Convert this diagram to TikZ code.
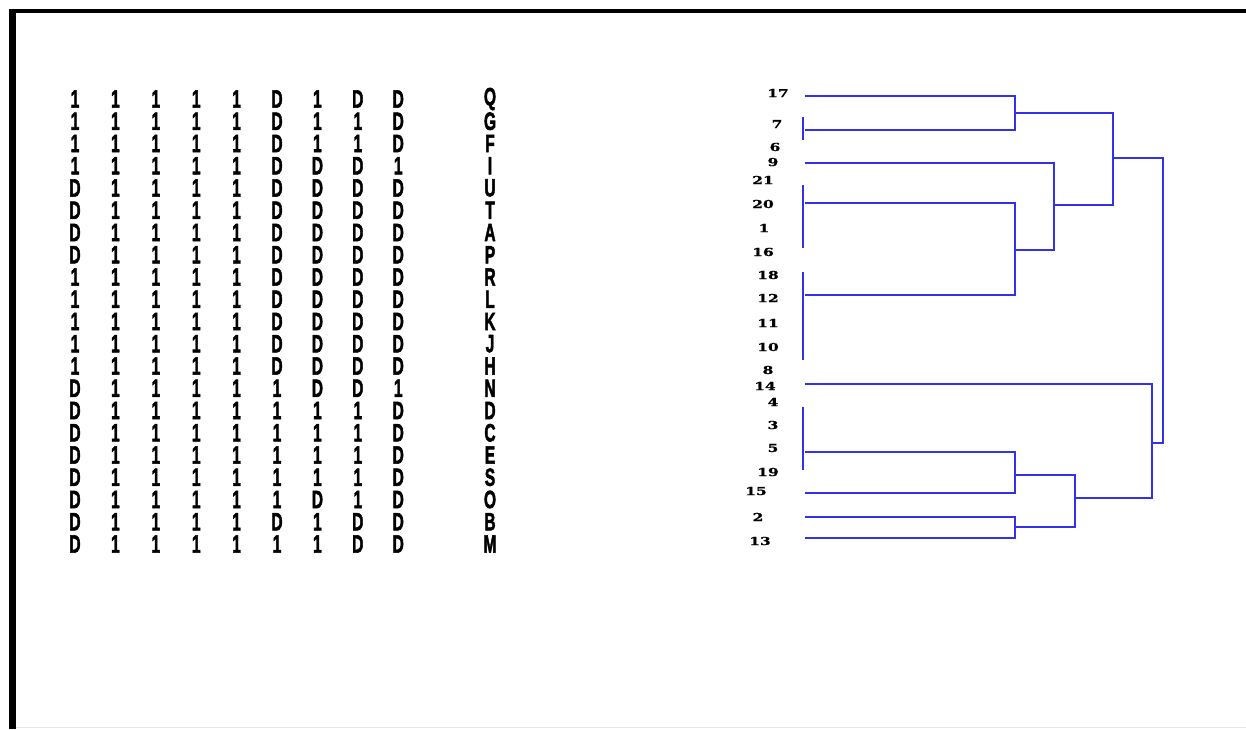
\documentclass[tikz,border=0pt]{standalone}
\usepackage{fontspec}
\usepackage{graphicx}
\setmainfont{Liberation Sans}
\newfontfamily\numfont{DejaVu Serif Bold}[FakeBold=1]
\newfontfamily\cellfont{Liberation Sans Bold}[FakeBold=2.5]
\definecolor{dblue}{RGB}{50,50,235}
\definecolor{lgray}{RGB}{232,232,232}
\tikzset{
  cell/.style={inner sep=0pt, font=\cellfont\fontsize{25}{25}\selectfont},
  leaflab/.style={inner sep=0pt, font=\numfont\fontsize{11}{11}\selectfont},
  den/.style={draw=dblue, line width=2.8pt}
}
\begin{document}
\begin{tikzpicture}[x=1pt,y=-1pt]
\useasboundingbox (0,0) rectangle (1246,729);
\fill[white] (0,0) rectangle (1246,729);
% frame
\fill[black] (9,8.5) rectangle (1246,13);
\fill[black] (9,8.5) rectangle (15.5,729);
\draw[lgray, line width=1.5pt] (15.5,727.5) -- (1246,727.5);
% matrix
\foreach \lab/\vals [count=\r] in {
  Q/{1,1,1,1,1,D,1,D,D},
  G/{1,1,1,1,1,D,1,1,D},
  F/{1,1,1,1,1,D,1,1,D},
  I/{1,1,1,1,1,D,D,D,1},
  U/{D,1,1,1,1,D,D,D,D},
  T/{D,1,1,1,1,D,D,D,D},
  A/{D,1,1,1,1,D,D,D,D},
  P/{D,1,1,1,1,D,D,D,D},
  R/{1,1,1,1,1,D,D,D,D},
  L/{1,1,1,1,1,D,D,D,D},
  K/{1,1,1,1,1,D,D,D,D},
  J/{1,1,1,1,1,D,D,D,D},
  H/{1,1,1,1,1,D,D,D,D},
  N/{D,1,1,1,1,1,D,D,1},
  D/{D,1,1,1,1,1,1,1,D},
  C/{D,1,1,1,1,1,1,1,D},
  E/{D,1,1,1,1,1,1,1,D},
  S/{D,1,1,1,1,1,1,1,D},
  O/{D,1,1,1,1,1,D,1,D},
  B/{D,1,1,1,1,D,1,D,D},
  M/{D,1,1,1,1,1,1,D,D}} {
  \pgfmathsetmacro{\yy}{99+22.25*(\r-1)}
  \foreach \v [count=\k] in \vals {
    \node[cell] (r\lab-\k) at ({34.6+40.4*\k},\yy) {\scalebox{0.62}[1]{\v}};
  }
  \node[cell] (name\lab) at (490,\yy) {\scalebox{0.62}[1]{\lab}};
}
% leaf labels
\foreach \t/\x/\y in {17/778/93, 7/777/124, 6/775/147, 9/773/162, 21/763/180,
  20/763/204, 1/764/228, 16/763/252, 18/768/275, 12/768/298, 11/768/323,
  10/768/347, 8/768/370, 14/765/386, 4/773/402, 3/773/425, 5/773/448,
  19/768/472, 15/756/491, 2/758/517, 13/760/541} {
  \node[leaflab] (l\t) at (\x,\y) {\scalebox{1.4}[1]{\t}};
}
% dendrogram
\draw[den] (805,96) -| (1015,130) -- (805,130);
\draw[den] (803,117) -- (803,140);
\draw[den] (805,163) -| (1054,250) -- (1015,250);
\draw[den] (805,203) -| (1015,295) -- (805,295);
\draw[den] (803,185) -- (803,248);
\draw[den] (803,272) -- (803,360);
\draw[den] (1015,113) -| (1113,205) -- (1054,205);
\draw[den] (1113,158) -| (1163,443) -- (1152,443);
\draw[den] (805,384) -| (1152,498) -- (1075,498);
\draw[den] (805,452) -| (1015,493) -- (805,493);
\draw[den] (803,407) -- (803,470);
\draw[den] (1015,475) -| (1075,527) -- (1015,527);
\draw[den] (805,517) -| (1015,538) -- (805,538);
\end{tikzpicture}
\end{document}
